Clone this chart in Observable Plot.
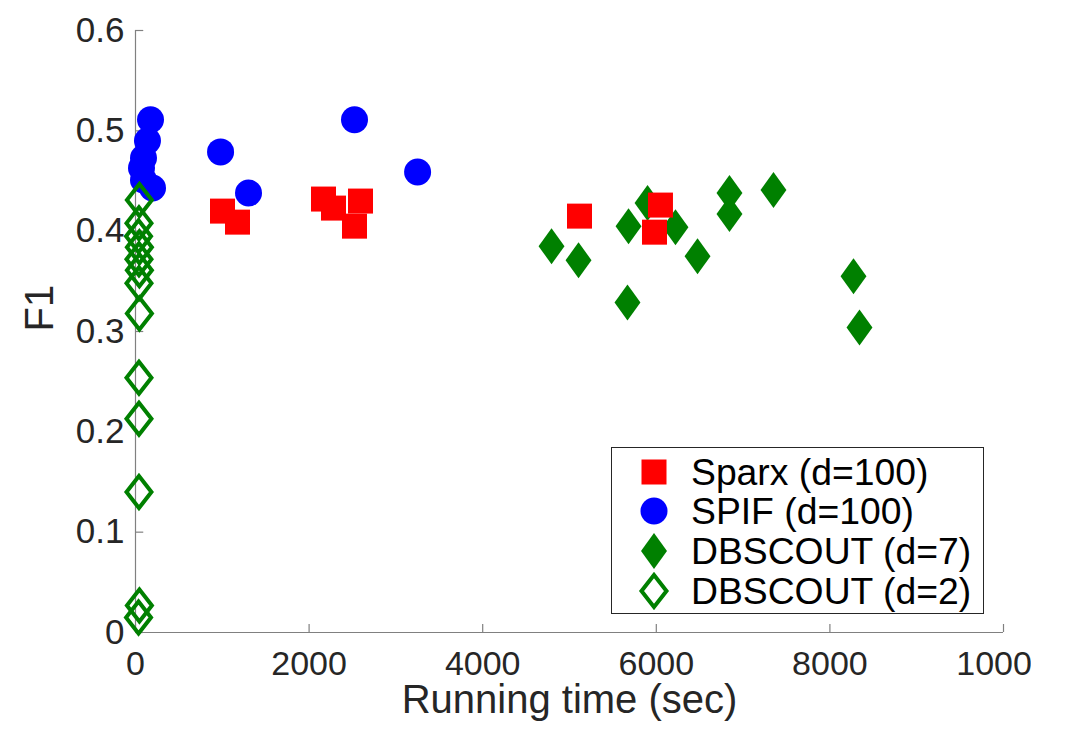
<!DOCTYPE html>
<html><head><meta charset="utf-8">
<script src="https://cdn.jsdelivr.net/npm/d3@7"></script>
<script src="https://cdn.jsdelivr.net/npm/@observablehq/plot@0.6"></script>
<style>
body{margin:0;background:#fff;font-family:"Liberation Sans",Arial,Helvetica,sans-serif;}
#wrap{position:relative;width:1066px;height:729px;overflow:hidden;background:#fff;}
#legend{position:absolute;left:0;top:0;pointer-events:none;}
#mask{position:absolute;left:1031px;top:640px;width:35px;height:45px;background:#fff;}
</style></head><body><div id="wrap"></div>
<script>
// ---- data ----
const sparxTime = [1002, 1175, 2166, 2281, 2592, 2523, 5115, 6048, 5979];
const sparxF1   = [0.420, 0.409, 0.432, 0.423, 0.430, 0.405, 0.415, 0.426, 0.399];

const spifTime = [173, 138, 92, 69, 92, 196, 980, 1302, 2523, 3250];
const spifF1   = [0.511, 0.490, 0.473, 0.463, 0.451, 0.443, 0.479, 0.438, 0.511, 0.459];

const dbs7Time = [4793, 5104, 5680, 5899, 6221, 5668, 6475, 6843, 6843, 7350, 8272, 8341];
const dbs7F1   = [0.385, 0.371, 0.405, 0.428, 0.404, 0.329, 0.375, 0.438, 0.417, 0.441, 0.355, 0.304];

const dbs2Time = [45, 40, 35, 45, 40, 45, 40, 45, 40, 40, 40, 45, 35];
const dbs2F1   = [0.431, 0.408, 0.395, 0.384, 0.372, 0.361, 0.348, 0.318, 0.254, 0.213, 0.140, 0.027, 0.015];

const seriesNames = ["Sparx (d=100)", "SPIF (d=100)", "DBSCOUT (d=7)", "DBSCOUT (d=2)"];
const xTicks = [0, 2000, 4000, 6000, 8000, 10000];
const yTicks = [0, 0.1, 0.2, 0.3, 0.4, 0.5, 0.6];
const xLabel = "Running time (sec)";
const yLabel = "F1";

// ---- helpers ----
const rows = (xs, ys) => xs.map((t, i) => ({time: t, f1: ys[i]}));
const diamond = (ratio) => ({
  draw(ctx, size) {
    const r = Math.sqrt(size / Math.PI);
    ctx.moveTo(0, -r); ctx.lineTo(ratio * r, 0); ctx.lineTo(0, r); ctx.lineTo(-ratio * r, 0); ctx.closePath();
  }
});
const squareSym = {draw(ctx, size) { const r = Math.sqrt(size / Math.PI); ctx.rect(-r, -r, 2 * r, 2 * r); }};
const filledDiamond = diamond(0.72);
const openDiamond = diamond(0.78);

const font = '"Liberation Sans", Arial, Helvetica, sans-serif';
const green = "#008000", red = "#ff0000", blue = "#0000ff";
const axisGray = "#808080";

const plot = Plot.plot({
  width: 1066, height: 729,
  marginLeft: 135, marginRight: 63, marginTop: 30, marginBottom: 97,
  x: {domain: [0, 10000]},
  y: {domain: [0, 0.6]},
  style: {fontFamily: font, background: "white", overflow: "visible", color: "#262626"},
  marks: [
    Plot.ruleX([0], {stroke: axisGray, strokeWidth: 1.2}),
    Plot.ruleY([0], {stroke: axisGray, strokeWidth: 1.2}),
    // inward tick marks (MATLAB style)
    Plot.ruleY(yTicks, {x1: 0, x2: 95, stroke: axisGray, strokeWidth: 1.2}),
    Plot.ruleX(xTicks, {y1: 0, y2: 0.008, stroke: axisGray, strokeWidth: 1.2}),
    Plot.axisX({ticks: xTicks, tickSize: 0, tickPadding: 18, fontSize: 34, label: null,
      fill: "#262626", tickFormat: d => String(d)}),
    Plot.axisY({ticks: yTicks, tickSize: 0, tickPadding: 11, fontSize: 35, label: null,
      fill: "#262626", tickFormat: d => d === 0 ? "0" : d.toFixed(1)}),
    Plot.text([xLabel], {text: d => d, frameAnchor: "bottom", dy: 80, fontSize: 40, fill: "#262626"}),
    Plot.text([yLabel], {text: d => d, frameAnchor: "left", dx: -95, rotate: -90, fontSize: 40, fill: "#262626"}),
    Plot.dot(rows(dbs7Time, dbs7F1), {x: "time", y: "f1", symbol: filledDiamond, r: 18, fill: green, stroke: "none"}),
    Plot.dot(rows(sparxTime, sparxF1), {x: "time", y: "f1", symbol: squareSym, r: 12.5, fill: red, stroke: "none"}),
    Plot.dot(rows(spifTime, spifF1), {x: "time", y: "f1", symbol: "circle", r: 13.5, fill: blue, stroke: "none"}),
    Plot.dot(rows(dbs2Time, dbs2F1), {x: "time", y: "f1", symbol: openDiamond, r: 16, fill: "none", stroke: green, strokeWidth: 4})
  ]
});

const wrap = document.getElementById("wrap");
wrap.appendChild(plot);

// ---- legend (inside the axes, lower right) ----
const ns = "http://www.w3.org/2000/svg";
const lg = document.createElementNS(ns, "svg");
lg.setAttribute("id", "legend");
lg.setAttribute("width", 1066); lg.setAttribute("height", 729);
const box = {x: 611.5, y: 447.5, w: 372, h: 166};
let html = `<rect x="${box.x}" y="${box.y}" width="${box.w}" height="${box.h}" fill="#fff" stroke="#262626" stroke-width="1"/>`;
const rowY = [472, 511, 551, 591];
const sx = 654;
html += `<rect x="${sx-12.5}" y="${rowY[0]-12.5}" width="25" height="25" fill="${red}"/>`;
html += `<circle cx="${sx}" cy="${rowY[1]}" r="13.5" fill="${blue}"/>`;
html += `<path d="M${sx},${rowY[2]-18}L${sx+13},${rowY[2]}L${sx},${rowY[2]+18}L${sx-13},${rowY[2]}Z" fill="${green}"/>`;
html += `<path d="M${sx},${rowY[3]-16}L${sx+12.5},${rowY[3]}L${sx},${rowY[3]+16}L${sx-12.5},${rowY[3]}Z" fill="none" stroke="${green}" stroke-width="4"/>`;
seriesNames.forEach((name, i) => {
  html += `<text x="691" y="${rowY[i]}" dy="0.36em" font-size="37.3" font-family='${font}' fill="#000">${name}</text>`;
});
lg.innerHTML = html;
wrap.appendChild(lg);

// the reference image is cropped at its right edge, cutting the last tick label
const mask = document.createElement("div");
mask.id = "mask";
wrap.appendChild(mask);
</script>
</body></html>
